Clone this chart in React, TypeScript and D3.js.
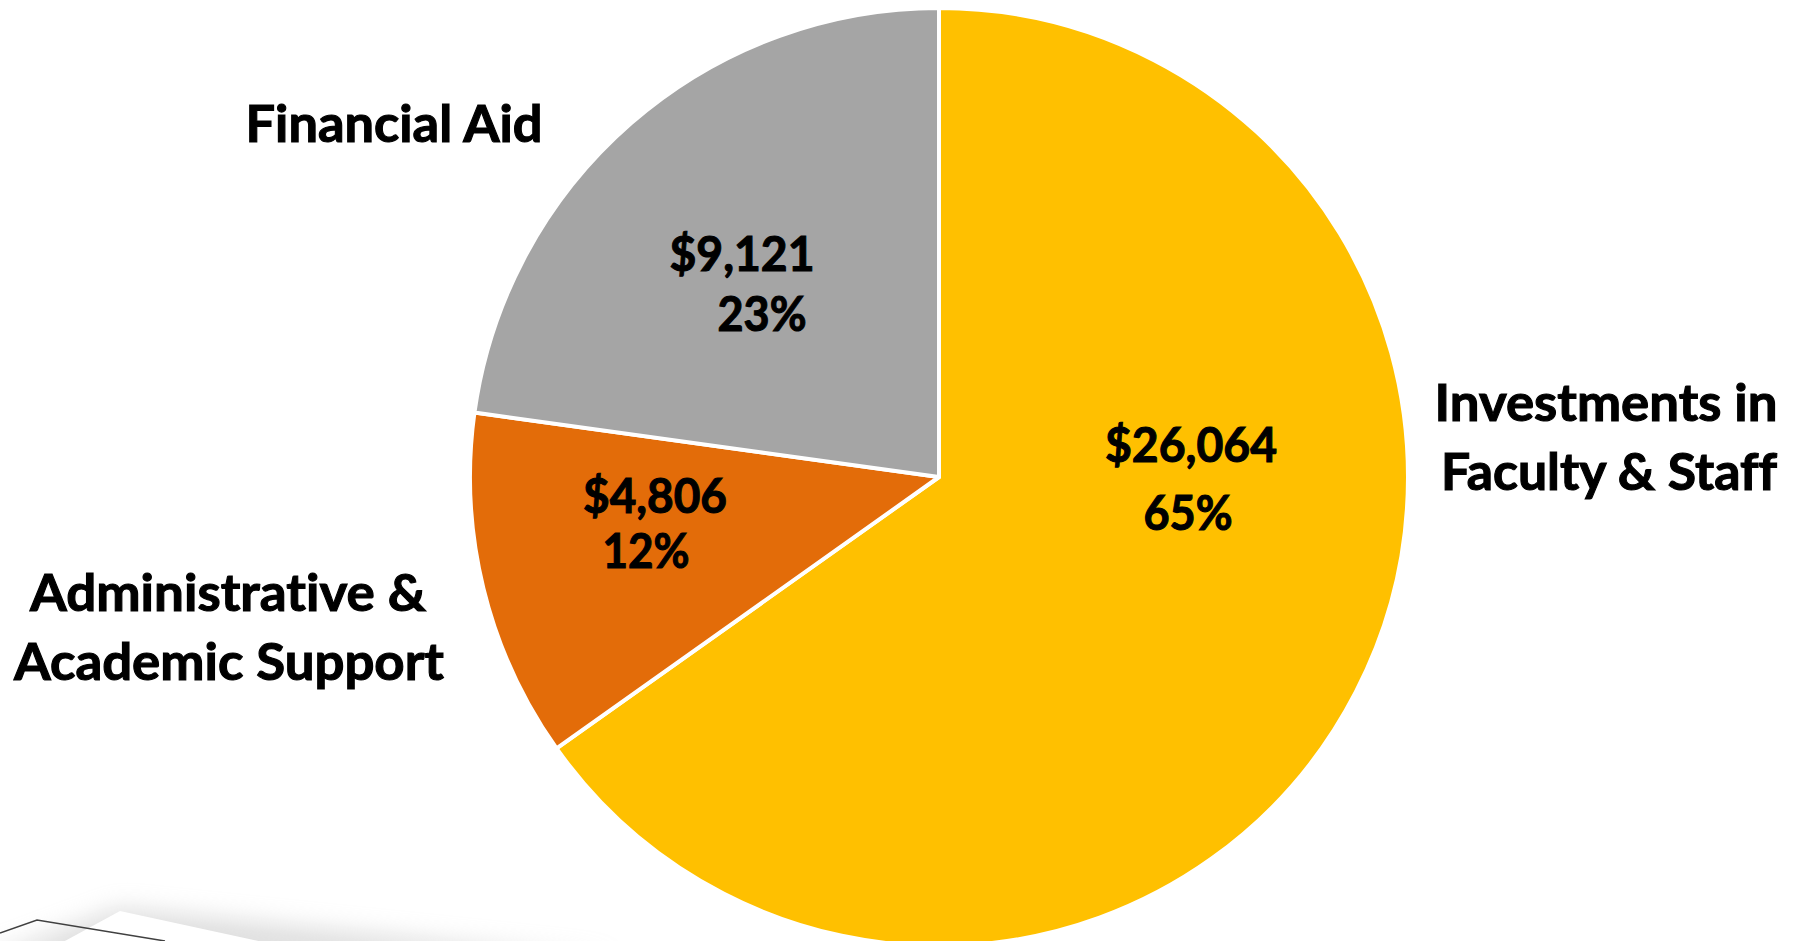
import React from "react";
import * as d3 from "d3";

const categories = ["Investments in Faculty & Staff", "Administrative & Academic Support", "Financial Aid"];
const values = [26064, 4806, 9121];
const percents = ["65%", "12%", "23%"];
const colors = ["#FFC000", "#E36C09", "#A5A5A5"];
const nameLines = [["Investments in", "Faculty & Staff"], ["Administrative &", "Academic Support"], ["Financial Aid"]];

// layout (full-size pixel coords)
const W = 1799, H = 941;
const CX = 939, CY = 477, R = 469;
const FONT = "Lato, 'Open Sans', 'DejaVu Sans', sans-serif";

// data-label placement: [cx, baseline, width] per line
const dataLabelLayout = [
  [[1191, 462, 172], [1188, 530, 89]],
  [[655, 513, 144], [646, 568, 87]],
  [[742, 271, 145], [762, 331, 89]],
];
const nameLabelLayout = [
  [[1606, 421, 343], [1609, 490, 336]],
  [[228, 611, 396], [229, 680, 430]],
  [[394, 142, 297]],
];

export default function App() {
  const pie = d3.pie<number>().sort(null).startAngle(0).endAngle(2 * Math.PI);
  const arcs = pie(values);
  const arcGen = d3.arc<d3.PieArcDatum<number>>().innerRadius(0).outerRadius(R);
  const fmt = d3.format("$,");

  return (
    <svg width={W} height={H} style={{ position: "absolute", left: 0, top: 0, background: "#fff" }}>
      <defs>
        <filter id="blur" x="-50%" y="-50%" width="200%" height="200%">
          <feGaussianBlur stdDeviation="12" />
        </filter>
        <clipPath id="clipB">
          <rect x={0} y={0} width={W} height={H} />
        </clipPath>
      </defs>
      <rect x={0} y={0} width={W} height={H} fill="#fff" />
      {/* bottom-left decorative shapes */}
      <g clipPath="url(#clipB)">
        <polygon points="-20,960 120,908 620,960" fill="#bdbdbd" opacity={0.5} filter="url(#blur)" />
        <polygon points="30,960 120,911 300,950 300,960" fill="#fff" />
        <polyline points="0,933 37,920 165,941" fill="none" stroke="#404040" strokeWidth={1.5} />
      </g>
      <g transform={`translate(${CX},${CY})`}>
        {arcs.map((a, i) => (
          <path key={categories[i]} d={arcGen(a) || ""} fill={colors[i]} stroke="#fff" strokeWidth={4} strokeLinejoin="round" />
        ))}
      </g>
      <g fontFamily={FONT} fontWeight={700} fill="#000" stroke="#000" strokeWidth={1.1} style={{ fontVariantLigatures: "none" }}>
        {values.map((v, i) => {
          const lines = [fmt(v), percents[i]];
          return lines.map((t, j) => {
            const [x, y, w] = dataLabelLayout[i][j];
            return (
              <text key={`d${i}${j}`} x={x} y={y} textAnchor="middle" fontSize={48} textLength={w} lengthAdjust="spacingAndGlyphs">
                {t}
              </text>
            );
          });
        })}
        {nameLines.map((lines, i) =>
          lines.map((t, j) => {
            const [x, y, w] = nameLabelLayout[i][j];
            return (
              <text key={`n${i}${j}`} x={x} y={y} textAnchor="middle" fontSize={51} textLength={w} lengthAdjust="spacingAndGlyphs">
                {t}
              </text>
            );
          })
        )}
      </g>
    </svg>
  );
}
